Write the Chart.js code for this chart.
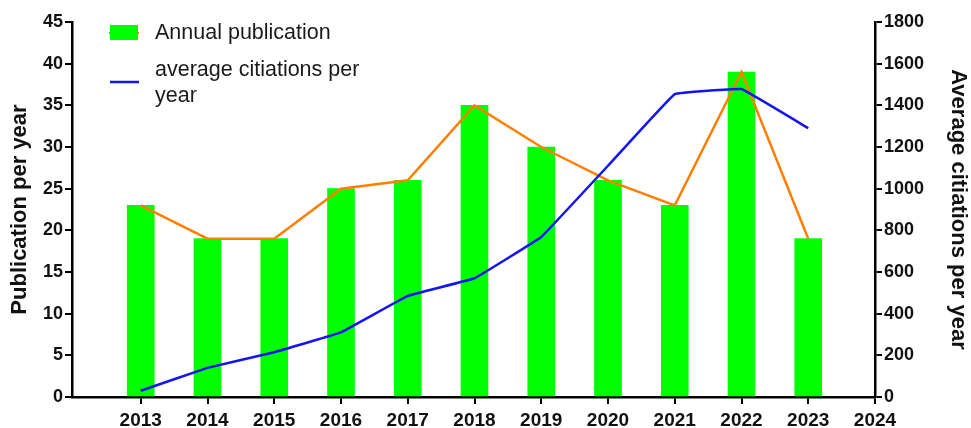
<!DOCTYPE html>
<html>
<head>
<meta charset="utf-8">
<script src="https://cdn.jsdelivr.net/npm/chart.js@4"></script>
<style>
html,body{margin:0;padding:0;background:#fff;}
#wrap{width:971px;height:428px;position:relative;}
</style>
</head>
<body>
<div id="wrap"><canvas id="c" width="971" height="428"></canvas></div>
<script>
const years = [2013, 2014, 2015, 2016, 2017, 2018, 2019, 2020, 2021, 2022, 2023];
const publications = [23, 19, 19, 25, 26, 35, 30, 26, 23, 39, 19];
const citations = [30, 140, 215, 310, 485, 570, 768, 1110, 1454, 1478, 1290];
const leftTicks = [0, 5, 10, 15, 20, 25, 30, 35, 40, 45];
const rightTicks = [0, 200, 400, 600, 800, 1000, 1200, 1400, 1600, 1800];
const xTickYears = [2013, 2014, 2015, 2016, 2017, 2018, 2019, 2020, 2021, 2022, 2023, 2024];

const FONT = '"Liberation Sans", Arial, sans-serif';
const GREEN = '#00ff00';
const ORANGE = '#ff8000';
const BLUE = '#1414f0';

const legendPlugin = {
  id: 'customLegend',
  afterDraw(chart) {
    const ctx = chart.ctx;
    ctx.save();
    ctx.strokeStyle = ORANGE;
    ctx.lineWidth = 2.5;
    ctx.beginPath(); ctx.moveTo(109, 33); ctx.lineTo(139, 33); ctx.stroke();
    ctx.fillStyle = GREEN;
    ctx.fillRect(110, 25, 28, 15);
    ctx.fillStyle = '#1a1a1a';
    ctx.font = '21.5px ' + FONT;
    ctx.textBaseline = 'middle';
    ctx.textAlign = 'left';
    ctx.fillText('Annual publication', 155, 33);
    ctx.strokeStyle = BLUE;
    ctx.lineWidth = 2.5;
    ctx.beginPath(); ctx.moveTo(110, 82); ctx.lineTo(139, 82); ctx.stroke();
    ctx.fillText('average citiations per', 155, 70);
    ctx.fillText('year', 155, 96);
    ctx.restore();
  }
};

new Chart(document.getElementById('c'), {
  data: {
    datasets: [
      {
        type: 'line',
        label: 'Annual publication (line)',
        data: years.map((y, i) => ({x: y, y: publications[i]})),
        borderColor: ORANGE,
        borderWidth: 2.5,
        pointRadius: 0,
        tension: 0,
        yAxisID: 'y',
        order: 2
      },
      {
        type: 'line',
        label: 'average citiations per year',
        data: years.map((y, i) => ({x: y, y: citations[i]})),
        borderColor: BLUE,
        borderWidth: 2.5,
        pointRadius: 0,
        tension: 0.05,
        yAxisID: 'y1',
        order: 1
      },
      {
        type: 'bar',
        label: 'Annual publication',
        data: years.map((y, i) => ({x: y, y: publications[i]})),
        backgroundColor: GREEN,
        borderWidth: 0,
        barThickness: 27,
        yAxisID: 'y',
        order: 3
      }
    ]
  },
  options: {
    responsive: false,
    animation: false,
    events: [],
    layout: {padding: {top: 22, left: 0, right: 0, bottom: 0}},
    plugins: {legend: {display: false}, tooltip: {enabled: false}},
    scales: {
      x: {
        type: 'linear',
        position: 'bottom',
        offset: false,
        min: 2011.97,
        max: 2024,
        afterBuildTicks(s) { s.ticks = xTickYears.map(v => ({value: v})); },
        afterFit(s) { s.height = 31; },
        ticks: {
          callback: v => String(v),
          font: {family: FONT, size: 19, weight: 'bold'},
          color: '#111',
          padding: 5,
          maxRotation: 0,
          autoSkip: false
        },
        grid: {
          display: true,
          offset: false,
          drawOnChartArea: false,
          drawTicks: true,
          tickLength: 7,
          lineWidth: 2,
          color: '#000'
        },
        border: {display: true, color: '#000', width: 2.5}
      },
      y: {
        type: 'linear',
        position: 'left',
        min: 0,
        max: 45,
        afterBuildTicks(s) { s.ticks = leftTicks.map(v => ({value: v})); },
        afterFit(s) { s.width = 72; },
        ticks: {
          callback: v => String(v),
          font: {family: FONT, size: 18, weight: 'bold'},
          color: '#111',
          padding: 2
        },
        grid: {display: true, drawOnChartArea: false, drawTicks: true, tickLength: 7, lineWidth: 2, color: '#000'},
        border: {display: true, color: '#000', width: 2.5},
        title: {
          display: true,
          text: 'Publication per year',
          font: {family: FONT, size: 22, weight: 'bold'},
          color: '#111',
          padding: {top: 7, bottom: 0}
        }
      },
      y1: {
        type: 'linear',
        position: 'right',
        min: 0,
        max: 1800,
        afterBuildTicks(s) { s.ticks = rightTicks.map(v => ({value: v})); },
        afterFit(s) { s.width = 96; },
        ticks: {
          callback: v => String(v),
          font: {family: FONT, size: 18, weight: 'bold'},
          color: '#111',
          padding: 2
        },
        grid: {display: true, drawOnChartArea: false, drawTicks: true, tickLength: 7, lineWidth: 2, color: '#000'},
        border: {display: true, color: '#000', width: 2.5},
        title: {
          display: true,
          text: 'Average citiations per year',
          font: {family: FONT, size: 22, weight: 'bold'},
          color: '#111',
          padding: {top: 0, bottom: 0}
        }
      }
    }
  },
  plugins: [legendPlugin]
});
</script>
</body>
</html>
